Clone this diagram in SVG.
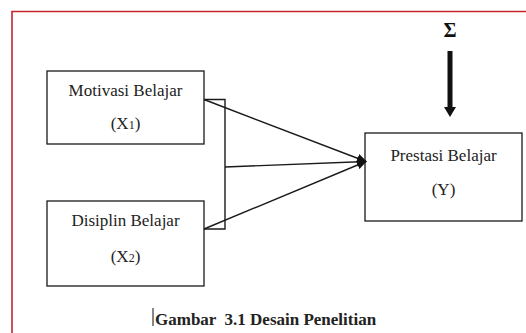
<svg xmlns="http://www.w3.org/2000/svg" width="526" height="333" viewBox="0 0 526 333">
<style>
.box{fill:#fff;stroke:#1a1a1a;stroke-width:1.3}
.t{font-family:"Liberation Serif","Times New Roman",serif;font-size:17px;fill:#222;text-anchor:middle}
.ln{stroke:#1a1a1a;stroke-width:1.4;fill:none}
</style>
<defs>
<marker id="ah" markerWidth="10" markerHeight="10" refX="9" refY="5" orient="auto" markerUnits="userSpaceOnUse">
<path d="M0,0.5 L10,5 L0,9.5 Z" fill="#111"/>
</marker>
</defs>
<rect x="0" y="0" width="526" height="333" fill="#fff"/>
<path d="M12,340 V11.5 H530" fill="none" stroke="#c4262c" stroke-width="1.6"/>
<g id="motivasi">
<rect class="box" x="47" y="71" width="157" height="73"/>
<text class="t" x="125.5" y="96">Motivasi Belajar</text>
<text class="t" x="125.5" y="129">(X<tspan font-size="12">1</tspan>)</text>
</g>
<g id="disiplin">
<rect class="box" x="47" y="201" width="157" height="85"/>
<text class="t" x="125.5" y="226">Disiplin Belajar</text>
<text class="t" x="125.5" y="262">(X<tspan font-size="12">2</tspan>)</text>
</g>
<g id="prestasi">
<rect class="box" x="365" y="133" width="157" height="88"/>
<text class="t" x="443.5" y="161">Prestasi Belajar</text>
<text class="t" x="443.5" y="195">(Y)</text>
</g>
<g id="error">
<text x="450" y="37" font-family="Liberation Serif,serif" font-size="20" font-weight="bold" text-anchor="middle" fill="#111">Σ</text>
</g>
<g id="connectors">
<path class="ln" d="M204,99.5 H225 V229 H204"/>
<line class="ln" x1="204" y1="99.5" x2="366" y2="161.5" marker-end="url(#ah)"/>
<line class="ln" x1="225" y1="167" x2="366" y2="161.5" marker-end="url(#ah)"/>
<line class="ln" x1="204" y1="229" x2="366" y2="161.5" marker-end="url(#ah)"/>
<line x1="450" y1="51" x2="450" y2="108" stroke="#111" stroke-width="5"/>
<path d="M444,107 H456 L450,117 Z" fill="#111"/>
</g>
<g id="caption">
<line x1="153" y1="308" x2="153" y2="326" stroke="#111" stroke-width="1"/>
<text x="155" y="325" xml:space="preserve" font-family="Liberation Serif,serif" font-size="17" font-weight="bold" fill="#222">Gambar  3.1 Desain Penelitian</text>
</g>
</svg>
